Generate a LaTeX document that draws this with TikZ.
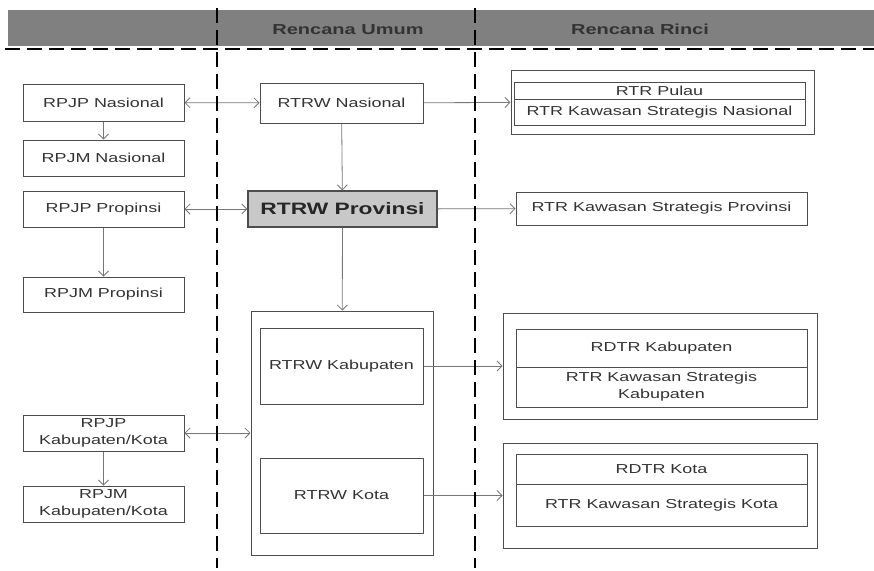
\documentclass[tikz,border=0pt]{standalone}
\usepackage{fontspec}
\newfontfamily\diafont[FakeStretch=1.38]{Liberation Sans}
\usetikzlibrary{arrows.meta}
\definecolor{boxline}{HTML}{4D4D4D}
\definecolor{linkgray}{HTML}{777777}
\definecolor{txtgray}{HTML}{333333}
\definecolor{bandgray}{HTML}{808080}
\definecolor{provgray}{HTML}{C8C8C8}

\begin{document}
\begin{tikzpicture}[x=1pt,y=-1pt,
    box/.style={draw=boxline,line width=1pt,text=txtgray,inner sep=0pt,align=center,
                font=\diafont\fontsize{13}{17}\selectfont},
    frame/.style={draw=boxline,line width=1pt,inner sep=0pt},
    link/.style={draw=linkgray,line width=0.8pt,-{Straight Barb[length=5pt,width=10pt]}},
    both/.style={link,{Straight Barb[length=5pt,width=10pt]}-{Straight Barb[length=5pt,width=10pt]}},
    head/.style={text=black!80,font=\diafont\bfseries\fontsize{14.5}{17}\selectfont},
    sepline/.style={line width=2.6pt,dash pattern=on 15pt off 7pt}]
\useasboundingbox (0,0) rectangle (874,570);

% header
\fill[bandgray] (8,10) rectangle (874,46);
\node[head] (umum) at (348,29.5) {Rencana Umum};
\node[head] (rinci) at (640,29.5) {Rencana Rinci};

% pembangunan (left column)
\node[box,minimum width=161pt,minimum height=37pt] (rpjpnas) at (103.5,102.5) {RPJP Nasional};
\node[box,minimum width=161pt,minimum height=36pt] (rpjmnas) at (103.5,158) {RPJM Nasional};
\node[box,minimum width=161pt,minimum height=36pt] (rpjpprop) at (103.5,209) {RPJP Propinsi};
\node[box,minimum width=161pt,minimum height=35pt] (rpjmprop) at (103.5,294.5) {RPJM Propinsi};
\node[box,minimum width=161pt,minimum height=36pt] (rpjpkab) at (103.5,433) {RPJP\\Kabupaten/Kota};
\node[box,minimum width=161pt,minimum height=36pt] (rpjmkab) at (103.5,504) {RPJM\\Kabupaten/Kota};

% rencana umum
\node[box,minimum width=163pt,minimum height=40pt] (rtrwnas) at (341.5,103) {RTRW Nasional};
\node[box,fill=provgray,line width=1.3pt,text=black!85,minimum width=189pt,minimum height=36pt,
      font=\diafont\bfseries\fontsize{16.5}{19}\selectfont] (rtrwprov) at (342.5,209) {RTRW Provinsi};
\node[frame,minimum width=182pt,minimum height=244pt] (daerah) at (342,433) {};
\node[box,minimum width=163pt,minimum height=76pt] (rtrwkab) at (341.5,366) {RTRW Kabupaten};
\node[box,minimum width=163pt,minimum height=75pt] (rtrwkota) at (341.5,495.5) {RTRW Kota};

% rencana rinci
\node[frame,minimum width=303pt,minimum height=64pt] (rincinas) at (662.5,102) {};
\node[box,minimum width=291pt,minimum height=17pt] (pulau) at (659.5,90.5) {RTR Pulau};
\node[box,minimum width=291pt,minimum height=26pt] (ksnas) at (659.5,112) {RTR Kawasan Strategis Nasional};
\node[box,minimum width=291pt,minimum height=33pt] (ksprov) at (661.5,208.5) {RTR Kawasan Strategis Provinsi};
\node[frame,minimum width=314pt,minimum height=106pt] (rincikab) at (660,366) {};
\node[box,minimum width=291pt,minimum height=38pt] (rdtrkab) at (661.5,348) {RDTR Kabupaten};
\node[box,minimum width=291pt,minimum height=40pt] (kskab) at (661.5,387) {RTR Kawasan Strategis\\Kabupaten};
\node[frame,minimum width=314pt,minimum height=105pt] (rincikota) at (660,495.5) {};
\node[box,minimum width=291pt,minimum height=30pt] (rdtrkota) at (661.5,469) {RDTR Kota};
\node[box,minimum width=291pt,minimum height=42pt] (kskota) at (661.5,505) {RTR Kawasan Strategis Kota};

% connectors
\draw[both] (rpjpnas) -- (rtrwnas);
\draw[both] (rpjpprop) -- (rtrwprov);
\draw[both] (rpjpkab) -- (daerah);
\draw[link] (rpjpnas) -- (rpjmnas);
\draw[link] (rpjpprop) -- (rpjmprop);
\draw[link] (rpjpkab) -- (rpjmkab);
\draw[link] (rtrwnas) -- (rtrwprov);
\draw[link] (rtrwprov) -- (daerah);
\draw[link] (rtrwnas) -- (rincinas);
\draw[link] (rtrwprov) -- (ksprov);
\draw[link] (rtrwkab) -- (rincikab);
\draw[link] (rtrwkota) -- (rincikota);

% separators
\draw[sepline] (5,49) -- (874,49);
\foreach \x in {217,475}
    \draw[sepline] (\x,8) -- (\x,568);
\end{tikzpicture}
\end{document}
